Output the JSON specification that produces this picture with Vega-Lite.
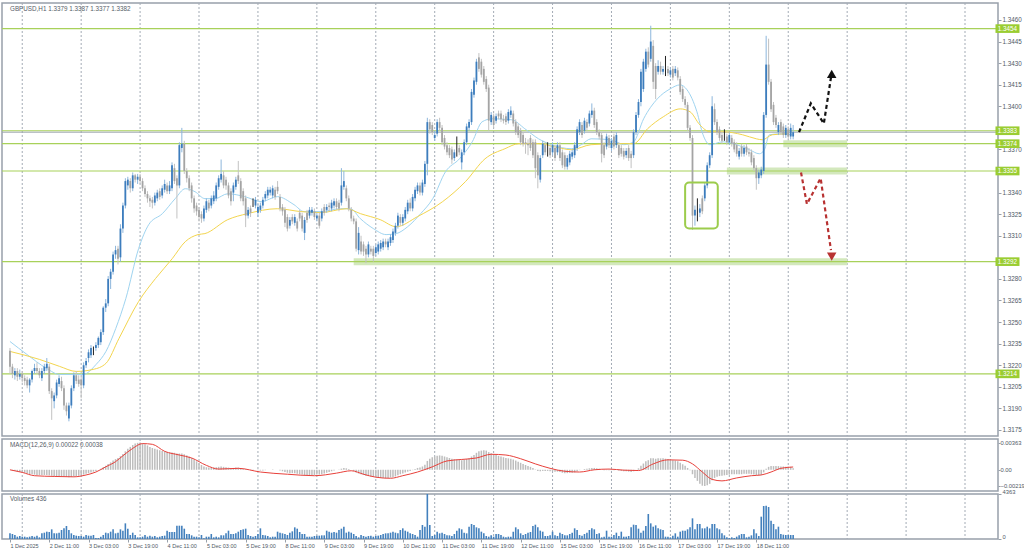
{
"$schema":"https://vega.github.io/schema/vega-lite/v6.json",
"background":"white",
"padding":{"left":0,"top":1,"right":0,"bottom":0},
"bounds":"flush",
"spacing":3,
"config":{
"view":{"stroke":"#98a0aa","strokeWidth":1.5},
"axis":{"labelFont":"Liberation Sans","labelFontSize":6.3,"labelColor":"#4f5966","tickColor":"#98a0aa","domainColor":"#98a0aa","tickSize":3,"labelPadding":1,"grid":false,"labelOverlap":false},
"text":{"font":"Liberation Sans"}
},
"datasets":{
"bars":[
{"i":0,"o":1.3230,"h":1.3232,"l":1.3214,"c":1.3219,"v":549,"m":0},
{"i":1,"o":1.3219,"h":1.3221,"l":1.3211,"c":1.3214,"v":485,"m":-0.0001},
{"i":2,"o":1.3213,"h":1.3218,"l":1.3210,"c":1.3216,"v":388,"m":-0.00015},
{"i":3,"o":1.3216,"h":1.3218,"l":1.3209,"c":1.3212,"v":226,"m":-0.0002},
{"i":4,"o":1.3212,"h":1.3217,"l":1.3210,"c":1.3214,"v":291,"m":-0.0003},
{"i":5,"o":1.3214,"h":1.3216,"l":1.3208,"c":1.3211,"v":226,"m":-0.00035},
{"i":6,"o":1.3211,"h":1.3213,"l":1.3206,"c":1.3209,"v":226,"m":-0.0004},
{"i":7,"o":1.3210,"h":1.3212,"l":1.3204,"c":1.3206,"v":162,"m":-0.0005},
{"i":8,"o":1.3206,"h":1.3211,"l":1.3201,"c":1.3210,"v":226,"m":-0.0006},
{"i":9,"o":1.3210,"h":1.3217,"l":1.3208,"c":1.3216,"v":291,"m":-0.0006},
{"i":10,"o":1.3216,"h":1.3221,"l":1.3214,"c":1.3218,"v":226,"m":-0.00065},
{"i":11,"o":1.3218,"h":1.3222,"l":1.3214,"c":1.3216,"v":323,"m":-0.0007},
{"i":12,"o":1.3216,"h":1.3218,"l":1.3211,"c":1.3213,"v":162,"m":-0.0007},
{"i":13,"o":1.3211,"h":1.3218,"l":1.3209,"c":1.3216,"v":549,"m":-0.0007},
{"i":14,"o":1.3216,"h":1.3221,"l":1.3214,"c":1.3219,"v":614,"m":-0.0007},
{"i":15,"o":1.3218,"h":1.3225,"l":1.3216,"c":1.3221,"v":711,"m":-0.0007},
{"i":16,"o":1.3219,"h":1.3221,"l":1.3200,"c":1.3202,"v":678,"m":-0.00075},
{"i":17,"o":1.3202,"h":1.3204,"l":1.3182,"c":1.3197,"v":937,"m":-0.0008},
{"i":18,"o":1.3195,"h":1.3201,"l":1.3190,"c":1.3199,"v":549,"m":-0.00085},
{"i":19,"o":1.3199,"h":1.3210,"l":1.3197,"c":1.3208,"v":549,"m":-0.00085},
{"i":20,"o":1.3207,"h":1.3213,"l":1.3205,"c":1.3211,"v":614,"m":-0.00085},
{"i":21,"o":1.3209,"h":1.3212,"l":1.3202,"c":1.3204,"v":872,"m":-0.00085},
{"i":22,"o":1.3204,"h":1.3206,"l":1.3189,"c":1.3192,"v":1034,"m":-0.0009},
{"i":23,"o":1.3192,"h":1.3194,"l":1.3185,"c":1.3188,"v":1260,"m":-0.00095},
{"i":24,"o":1.3183,"h":1.3194,"l":1.3181,"c":1.3192,"v":872,"m":-0.001},
{"i":25,"o":1.3192,"h":1.3206,"l":1.3190,"c":1.3204,"v":549,"m":-0.00095},
{"i":26,"o":1.3204,"h":1.3215,"l":1.3202,"c":1.3213,"v":388,"m":-0.0009},
{"i":27,"o":1.3213,"h":1.3216,"l":1.3207,"c":1.3209,"v":323,"m":-0.00085},
{"i":28,"o":1.3210,"h":1.3213,"l":1.3205,"c":1.3207,"v":291,"m":-0.0008},
{"i":29,"o":1.3210,"h":1.3212,"l":1.3197,"c":1.3206,"v":291,"m":-0.00075},
{"i":30,"o":1.3206,"h":1.3222,"l":1.3204,"c":1.3220,"v":226,"m":-0.00065},
{"i":31,"o":1.3220,"h":1.3225,"l":1.3218,"c":1.3223,"v":388,"m":-0.00055},
{"i":32,"o":1.3225,"h":1.3231,"l":1.3222,"c":1.3229,"v":323,"m":-0.00045},
{"i":33,"o":1.3227,"h":1.3234,"l":1.3225,"c":1.3232,"v":323,"m":-0.00035},
{"i":34,"o":1.3231,"h":1.3233,"l":1.3227,"c":1.3231,"v":388,"m":-0.00025},
{"i":35,"o":1.3232,"h":1.3236,"l":1.3230,"c":1.3234,"v":97,"m":-0.00015},
{"i":36,"o":1.3234,"h":1.3240,"l":1.3232,"c":1.3239,"v":97,"m":0},
{"i":37,"o":1.3236,"h":1.3245,"l":1.3234,"c":1.3243,"v":226,"m":0.00015},
{"i":38,"o":1.3243,"h":1.3261,"l":1.3241,"c":1.3260,"v":388,"m":0.00035},
{"i":39,"o":1.3260,"h":1.3266,"l":1.3257,"c":1.3263,"v":614,"m":0.00055},
{"i":40,"o":1.3263,"h":1.3282,"l":1.3261,"c":1.3280,"v":549,"m":0.0008},
{"i":41,"o":1.3280,"h":1.3287,"l":1.3273,"c":1.3285,"v":711,"m":0.001},
{"i":42,"o":1.3285,"h":1.3299,"l":1.3283,"c":1.3297,"v":937,"m":0.00125},
{"i":43,"o":1.3297,"h":1.3303,"l":1.3294,"c":1.3300,"v":549,"m":0.00145},
{"i":44,"o":1.3301,"h":1.3303,"l":1.3290,"c":1.3294,"v":614,"m":0.0016},
{"i":45,"o":1.3295,"h":1.3318,"l":1.3292,"c":1.3315,"v":937,"m":0.00185},
{"i":46,"o":1.3315,"h":1.3333,"l":1.3312,"c":1.3331,"v":808,"m":0.00215},
{"i":47,"o":1.3331,"h":1.3350,"l":1.3329,"c":1.3348,"v":1518,"m":0.0025},
{"i":48,"o":1.3345,"h":1.3351,"l":1.3342,"c":1.3349,"v":1001,"m":0.00285},
{"i":49,"o":1.3348,"h":1.3350,"l":1.3340,"c":1.3343,"v":388,"m":0.0031},
{"i":50,"o":1.3343,"h":1.3354,"l":1.3341,"c":1.3352,"v":614,"m":0.00335},
{"i":51,"o":1.3352,"h":1.3353,"l":1.3347,"c":1.3349,"v":388,"m":0.00355},
{"i":52,"o":1.3349,"h":1.3353,"l":1.3346,"c":1.3351,"v":162,"m":0.00365},
{"i":53,"o":1.3351,"h":1.3353,"l":1.3346,"c":1.3348,"v":162,"m":0.0037},
{"i":54,"o":1.3348,"h":1.3350,"l":1.3341,"c":1.3343,"v":226,"m":0.0036},
{"i":55,"o":1.3343,"h":1.3345,"l":1.3337,"c":1.3339,"v":388,"m":0.00345},
{"i":56,"o":1.3339,"h":1.3341,"l":1.3333,"c":1.3336,"v":226,"m":0.0033},
{"i":57,"o":1.3336,"h":1.3338,"l":1.3330,"c":1.3334,"v":323,"m":0.0031},
{"i":58,"o":1.3335,"h":1.3337,"l":1.3329,"c":1.3333,"v":226,"m":0.00295},
{"i":59,"o":1.3333,"h":1.3340,"l":1.3331,"c":1.3338,"v":291,"m":0.00285},
{"i":60,"o":1.3336,"h":1.3342,"l":1.3334,"c":1.3340,"v":162,"m":0.00275},
{"i":61,"o":1.3341,"h":1.3343,"l":1.3335,"c":1.3337,"v":226,"m":0.00265},
{"i":62,"o":1.3338,"h":1.3345,"l":1.3336,"c":1.3343,"v":291,"m":0.00255},
{"i":63,"o":1.3342,"h":1.3349,"l":1.3340,"c":1.3346,"v":323,"m":0.0025},
{"i":64,"o":1.3345,"h":1.3347,"l":1.3339,"c":1.3341,"v":808,"m":0.0024},
{"i":65,"o":1.3341,"h":1.3348,"l":1.3339,"c":1.3345,"v":678,"m":0.00235},
{"i":66,"o":1.3343,"h":1.3361,"l":1.3341,"c":1.3359,"v":678,"m":0.00235},
{"i":67,"o":1.3357,"h":1.3360,"l":1.3346,"c":1.3348,"v":678,"m":0.0023},
{"i":68,"o":1.3350,"h":1.3352,"l":1.3322,"c":1.3345,"v":1292,"m":0.0022},
{"i":69,"o":1.3345,"h":1.3375,"l":1.3343,"c":1.3373,"v":1292,"m":0.0022},
{"i":70,"o":1.3371,"h":1.3385,"l":1.3368,"c":1.3374,"v":1292,"m":0.0022},
{"i":71,"o":1.3374,"h":1.3376,"l":1.3353,"c":1.3355,"v":1001,"m":0.0021},
{"i":72,"o":1.3355,"h":1.3357,"l":1.3347,"c":1.3350,"v":485,"m":0.00195},
{"i":73,"o":1.3350,"h":1.3352,"l":1.3341,"c":1.3343,"v":485,"m":0.0018},
{"i":74,"o":1.3345,"h":1.3347,"l":1.3333,"c":1.3336,"v":355,"m":0.0016},
{"i":75,"o":1.3336,"h":1.3338,"l":1.3326,"c":1.3329,"v":226,"m":0.0014},
{"i":76,"o":1.3331,"h":1.3333,"l":1.3324,"c":1.3327,"v":226,"m":0.00115},
{"i":77,"o":1.3328,"h":1.3330,"l":1.3320,"c":1.3323,"v":162,"m":0.0009},
{"i":78,"o":1.3325,"h":1.3327,"l":1.3319,"c":1.3322,"v":388,"m":0.00065},
{"i":79,"o":1.3322,"h":1.3331,"l":1.3320,"c":1.3329,"v":65,"m":0.00045},
{"i":80,"o":1.3328,"h":1.3336,"l":1.3326,"c":1.3334,"v":226,"m":0.00035},
{"i":81,"o":1.3333,"h":1.3335,"l":1.3327,"c":1.3329,"v":226,"m":0.0003},
{"i":82,"o":1.3331,"h":1.3338,"l":1.3329,"c":1.3336,"v":485,"m":0.0003},
{"i":83,"o":1.3334,"h":1.3341,"l":1.3332,"c":1.3338,"v":162,"m":0.0003},
{"i":84,"o":1.3336,"h":1.3347,"l":1.3334,"c":1.3345,"v":226,"m":0.00035},
{"i":85,"o":1.3344,"h":1.3352,"l":1.3342,"c":1.3350,"v":162,"m":0.0004},
{"i":86,"o":1.3349,"h":1.3363,"l":1.3347,"c":1.3353,"v":355,"m":0.00045},
{"i":87,"o":1.3352,"h":1.3355,"l":1.3343,"c":1.3345,"v":355,"m":0.0004},
{"i":88,"o":1.3349,"h":1.3351,"l":1.3342,"c":1.3345,"v":549,"m":0.00035},
{"i":89,"o":1.3345,"h":1.3347,"l":1.3336,"c":1.3338,"v":808,"m":0.0003},
{"i":90,"o":1.3341,"h":1.3343,"l":1.3331,"c":1.3334,"v":485,"m":0.00025},
{"i":91,"o":1.3340,"h":1.3347,"l":1.3334,"c":1.3345,"v":485,"m":0.00025},
{"i":92,"o":1.3344,"h":1.3351,"l":1.3342,"c":1.3349,"v":549,"m":0.0003},
{"i":93,"o":1.3352,"h":1.3362,"l":1.3346,"c":1.3348,"v":711,"m":0.0003},
{"i":94,"o":1.3348,"h":1.3350,"l":1.3334,"c":1.3336,"v":872,"m":0.00025},
{"i":95,"o":1.3341,"h":1.3343,"l":1.3331,"c":1.3334,"v":937,"m":0.00015},
{"i":96,"o":1.3336,"h":1.3338,"l":1.3316,"c":1.3324,"v":1001,"m":0.00005},
{"i":97,"o":1.3324,"h":1.3330,"l":1.3322,"c":1.3328,"v":388,"m":0},
{"i":98,"o":1.3329,"h":1.3331,"l":1.3323,"c":1.3326,"v":291,"m":-0.00005},
{"i":99,"o":1.3333,"h":1.3336,"l":1.3330,"c":1.3333,"v":226,"m":-0.00005},
{"i":100,"o":1.3331,"h":1.3337,"l":1.3329,"c":1.3335,"v":291,"m":0},
{"i":101,"o":1.3326,"h":1.3332,"l":1.3323,"c":1.3330,"v":485,"m":-0.00005},
{"i":102,"o":1.3328,"h":1.3333,"l":1.3326,"c":1.3331,"v":1034,"m":-0.0001},
{"i":103,"o":1.3331,"h":1.3337,"l":1.3329,"c":1.3335,"v":388,"m":-0.0001},
{"i":104,"o":1.3336,"h":1.3341,"l":1.3334,"c":1.3339,"v":355,"m":-0.00005},
{"i":105,"o":1.3338,"h":1.3344,"l":1.3336,"c":1.3342,"v":291,"m":0},
{"i":106,"o":1.3340,"h":1.3344,"l":1.3338,"c":1.3342,"v":162,"m":0},
{"i":107,"o":1.3338,"h":1.3345,"l":1.3336,"c":1.3343,"v":226,"m":0.00005},
{"i":108,"o":1.3342,"h":1.3344,"l":1.3335,"c":1.3337,"v":226,"m":0},
{"i":109,"o":1.3344,"h":1.3348,"l":1.3339,"c":1.3341,"v":711,"m":0},
{"i":110,"o":1.3337,"h":1.3339,"l":1.3327,"c":1.3329,"v":614,"m":-0.0001},
{"i":111,"o":1.3330,"h":1.3332,"l":1.3324,"c":1.3327,"v":549,"m":-0.0002},
{"i":112,"o":1.3328,"h":1.3330,"l":1.3316,"c":1.3319,"v":485,"m":-0.0003},
{"i":113,"o":1.3323,"h":1.3325,"l":1.3313,"c":1.3315,"v":388,"m":-0.0004},
{"i":114,"o":1.3317,"h":1.3323,"l":1.3315,"c":1.3321,"v":614,"m":-0.00045},
{"i":115,"o":1.3323,"h":1.3325,"l":1.3318,"c":1.3320,"v":743,"m":-0.00045},
{"i":116,"o":1.3319,"h":1.3325,"l":1.3317,"c":1.3323,"v":1131,"m":-0.00045},
{"i":117,"o":1.3320,"h":1.3322,"l":1.3313,"c":1.3315,"v":1001,"m":-0.00055},
{"i":118,"o":1.3326,"h":1.3328,"l":1.3320,"c":1.3322,"v":678,"m":-0.0006},
{"i":119,"o":1.3324,"h":1.3326,"l":1.3313,"c":1.3315,"v":485,"m":-0.00065},
{"i":120,"o":1.3312,"h":1.3323,"l":1.3307,"c":1.3321,"v":485,"m":-0.0007},
{"i":121,"o":1.3326,"h":1.3328,"l":1.3319,"c":1.3321,"v":226,"m":-0.0007},
{"i":122,"o":1.3324,"h":1.3330,"l":1.3322,"c":1.3328,"v":226,"m":-0.0007},
{"i":123,"o":1.3326,"h":1.3330,"l":1.3324,"c":1.3328,"v":226,"m":-0.0007},
{"i":124,"o":1.3327,"h":1.3329,"l":1.3321,"c":1.3323,"v":291,"m":-0.0007},
{"i":125,"o":1.3322,"h":1.3326,"l":1.3320,"c":1.3324,"v":323,"m":-0.00065},
{"i":126,"o":1.3324,"h":1.3326,"l":1.3315,"c":1.3317,"v":323,"m":-0.00065},
{"i":127,"o":1.3322,"h":1.3329,"l":1.3320,"c":1.3327,"v":355,"m":-0.0006},
{"i":128,"o":1.3330,"h":1.3332,"l":1.3324,"c":1.3326,"v":355,"m":-0.0005},
{"i":129,"o":1.3328,"h":1.3332,"l":1.3326,"c":1.3330,"v":808,"m":-0.0004},
{"i":130,"o":1.3331,"h":1.3333,"l":1.3327,"c":1.3330,"v":711,"m":-0.0003},
{"i":131,"o":1.3329,"h":1.3335,"l":1.3327,"c":1.3333,"v":614,"m":-0.0002},
{"i":132,"o":1.3331,"h":1.3336,"l":1.3329,"c":1.3334,"v":678,"m":-0.0001},
{"i":133,"o":1.3334,"h":1.3336,"l":1.3328,"c":1.3330,"v":614,"m":0},
{"i":134,"o":1.3333,"h":1.3335,"l":1.3327,"c":1.3329,"v":872,"m":0.00005},
{"i":135,"o":1.3333,"h":1.3357,"l":1.3331,"c":1.3345,"v":1001,"m":0.00015},
{"i":136,"o":1.3344,"h":1.3355,"l":1.3342,"c":1.3348,"v":1195,"m":0.00025},
{"i":137,"o":1.3343,"h":1.3345,"l":1.3334,"c":1.3336,"v":614,"m":0.0002},
{"i":138,"o":1.3336,"h":1.3338,"l":1.3327,"c":1.3329,"v":711,"m":0.0001},
{"i":139,"o":1.3328,"h":1.3330,"l":1.3320,"c":1.3322,"v":614,"m":0},
{"i":140,"o":1.3322,"h":1.3324,"l":1.3318,"c":1.3320,"v":485,"m":-0.00015},
{"i":141,"o":1.3320,"h":1.3322,"l":1.3299,"c":1.3301,"v":291,"m":-0.00035},
{"i":142,"o":1.3300,"h":1.3316,"l":1.3297,"c":1.3312,"v":162,"m":-0.0005},
{"i":143,"o":1.3306,"h":1.3310,"l":1.3297,"c":1.3299,"v":388,"m":-0.0006},
{"i":144,"o":1.3304,"h":1.3306,"l":1.3296,"c":1.3299,"v":291,"m":-0.0007},
{"i":145,"o":1.3301,"h":1.3303,"l":1.3291,"c":1.3297,"v":226,"m":-0.0008},
{"i":146,"o":1.3297,"h":1.3306,"l":1.3295,"c":1.3304,"v":291,"m":-0.00085},
{"i":147,"o":1.3301,"h":1.3303,"l":1.3297,"c":1.3299,"v":323,"m":-0.0009},
{"i":148,"o":1.3301,"h":1.3303,"l":1.3292,"c":1.3296,"v":226,"m":-0.00095},
{"i":149,"o":1.3298,"h":1.3304,"l":1.3296,"c":1.3302,"v":291,"m":-0.001},
{"i":150,"o":1.3299,"h":1.3306,"l":1.3297,"c":1.3304,"v":323,"m":-0.00105},
{"i":151,"o":1.3301,"h":1.3307,"l":1.3299,"c":1.3305,"v":388,"m":-0.0011},
{"i":152,"o":1.3302,"h":1.3308,"l":1.3300,"c":1.3306,"v":485,"m":-0.0011},
{"i":153,"o":1.3306,"h":1.3308,"l":1.3302,"c":1.3304,"v":549,"m":-0.00115},
{"i":154,"o":1.3302,"h":1.3308,"l":1.3300,"c":1.3306,"v":549,"m":-0.0011},
{"i":155,"o":1.3305,"h":1.3311,"l":1.3303,"c":1.3309,"v":614,"m":-0.00105},
{"i":156,"o":1.3307,"h":1.3315,"l":1.3305,"c":1.3313,"v":711,"m":-0.001},
{"i":157,"o":1.3312,"h":1.3319,"l":1.3310,"c":1.3317,"v":614,"m":-0.0009},
{"i":158,"o":1.3317,"h":1.3326,"l":1.3315,"c":1.3324,"v":549,"m":-0.00075},
{"i":159,"o":1.3323,"h":1.3325,"l":1.3317,"c":1.3319,"v":872,"m":-0.0006},
{"i":160,"o":1.3319,"h":1.3325,"l":1.3317,"c":1.3323,"v":1034,"m":-0.0005},
{"i":161,"o":1.3322,"h":1.3330,"l":1.3320,"c":1.3328,"v":808,"m":-0.00035},
{"i":162,"o":1.3327,"h":1.3335,"l":1.3325,"c":1.3333,"v":711,"m":-0.00025},
{"i":163,"o":1.3333,"h":1.3336,"l":1.3327,"c":1.3329,"v":549,"m":-0.00015},
{"i":164,"o":1.3329,"h":1.3339,"l":1.3327,"c":1.3337,"v":485,"m":-0.00005},
{"i":165,"o":1.3336,"h":1.3344,"l":1.3334,"c":1.3342,"v":388,"m":0.0001},
{"i":166,"o":1.3341,"h":1.3347,"l":1.3339,"c":1.3345,"v":226,"m":0.00025},
{"i":167,"o":1.3345,"h":1.3347,"l":1.3338,"c":1.3340,"v":872,"m":0.0003},
{"i":168,"o":1.3340,"h":1.3349,"l":1.3338,"c":1.3347,"v":1357,"m":0.00045},
{"i":169,"o":1.3346,"h":1.3362,"l":1.3344,"c":1.3360,"v":1195,"m":0.0007},
{"i":170,"o":1.3360,"h":1.3392,"l":1.3352,"c":1.3389,"v":4363,"m":0.0012},
{"i":171,"o":1.3389,"h":1.3391,"l":1.3381,"c":1.3384,"v":1357,"m":0.0015},
{"i":172,"o":1.3387,"h":1.3389,"l":1.3380,"c":1.3382,"v":291,"m":0.0017},
{"i":173,"o":1.3378,"h":1.3383,"l":1.3376,"c":1.3380,"v":388,"m":0.0018},
{"i":174,"o":1.3381,"h":1.3391,"l":1.3379,"c":1.3389,"v":711,"m":0.0019},
{"i":175,"o":1.3389,"h":1.3392,"l":1.3383,"c":1.3385,"v":549,"m":0.00195},
{"i":176,"o":1.3385,"h":1.3387,"l":1.3373,"c":1.3375,"v":614,"m":0.0019},
{"i":177,"o":1.3378,"h":1.3380,"l":1.3370,"c":1.3372,"v":485,"m":0.0018},
{"i":178,"o":1.3373,"h":1.3375,"l":1.3366,"c":1.3368,"v":355,"m":0.0017},
{"i":179,"o":1.3371,"h":1.3373,"l":1.3364,"c":1.3366,"v":355,"m":0.0016},
{"i":180,"o":1.3370,"h":1.3372,"l":1.3360,"c":1.3363,"v":291,"m":0.0015},
{"i":181,"o":1.3364,"h":1.3370,"l":1.3362,"c":1.3368,"v":485,"m":0.00145},
{"i":182,"o":1.3371,"h":1.3379,"l":1.3365,"c":1.3371,"v":808,"m":0.0014},
{"i":183,"o":1.3371,"h":1.3373,"l":1.3366,"c":1.3368,"v":1034,"m":0.00135},
{"i":184,"o":1.3361,"h":1.3370,"l":1.3356,"c":1.3368,"v":937,"m":0.0013},
{"i":185,"o":1.3368,"h":1.3377,"l":1.3366,"c":1.3375,"v":614,"m":0.00135},
{"i":186,"o":1.3375,"h":1.3388,"l":1.3373,"c":1.3386,"v":549,"m":0.00145},
{"i":187,"o":1.3385,"h":1.3391,"l":1.3383,"c":1.3389,"v":1195,"m":0.00155},
{"i":188,"o":1.3389,"h":1.3412,"l":1.3387,"c":1.3410,"v":1454,"m":0.0018},
{"i":189,"o":1.3408,"h":1.3420,"l":1.3406,"c":1.3418,"v":1357,"m":0.002},
{"i":190,"o":1.3417,"h":1.3433,"l":1.3415,"c":1.3431,"v":1131,"m":0.0023},
{"i":191,"o":1.3434,"h":1.3437,"l":1.3424,"c":1.3426,"v":1034,"m":0.0025},
{"i":192,"o":1.3431,"h":1.3433,"l":1.3420,"c":1.3422,"v":711,"m":0.0026},
{"i":193,"o":1.3426,"h":1.3428,"l":1.3415,"c":1.3417,"v":549,"m":0.00265},
{"i":194,"o":1.3419,"h":1.3421,"l":1.3410,"c":1.3412,"v":291,"m":0.0026},
{"i":195,"o":1.3413,"h":1.3415,"l":1.3383,"c":1.3390,"v":226,"m":0.0024},
{"i":196,"o":1.3389,"h":1.3396,"l":1.3387,"c":1.3394,"v":355,"m":0.00225},
{"i":197,"o":1.3393,"h":1.3395,"l":1.3385,"c":1.3387,"v":226,"m":0.0021},
{"i":198,"o":1.3390,"h":1.3395,"l":1.3388,"c":1.3393,"v":485,"m":0.002},
{"i":199,"o":1.3395,"h":1.3397,"l":1.3391,"c":1.3393,"v":485,"m":0.0019},
{"i":200,"o":1.3395,"h":1.3397,"l":1.3389,"c":1.3391,"v":388,"m":0.0018},
{"i":201,"o":1.3391,"h":1.3394,"l":1.3388,"c":1.3390,"v":226,"m":0.0017},
{"i":202,"o":1.3393,"h":1.3395,"l":1.3387,"c":1.3389,"v":162,"m":0.0016},
{"i":203,"o":1.3390,"h":1.3398,"l":1.3388,"c":1.3396,"v":226,"m":0.00155},
{"i":204,"o":1.3394,"h":1.3400,"l":1.3392,"c":1.3397,"v":226,"m":0.0015},
{"i":205,"o":1.3395,"h":1.3397,"l":1.3386,"c":1.3388,"v":711,"m":0.0014},
{"i":206,"o":1.3389,"h":1.3391,"l":1.3380,"c":1.3382,"v":1131,"m":0.00125},
{"i":207,"o":1.3386,"h":1.3388,"l":1.3378,"c":1.3380,"v":937,"m":0.0011},
{"i":208,"o":1.3383,"h":1.3385,"l":1.3373,"c":1.3375,"v":549,"m":0.00095},
{"i":209,"o":1.3380,"h":1.3382,"l":1.3372,"c":1.3374,"v":388,"m":0.0008},
{"i":210,"o":1.3375,"h":1.3378,"l":1.3367,"c":1.3374,"v":485,"m":0.00065},
{"i":211,"o":1.3374,"h":1.3377,"l":1.3366,"c":1.3373,"v":614,"m":0.0005},
{"i":212,"o":1.3378,"h":1.3380,"l":1.3369,"c":1.3371,"v":678,"m":0.0004},
{"i":213,"o":1.3375,"h":1.3377,"l":1.3364,"c":1.3366,"v":1260,"m":0.00025},
{"i":214,"o":1.3375,"h":1.3377,"l":1.3350,"c":1.3357,"v":1389,"m":0.00005},
{"i":215,"o":1.3366,"h":1.3368,"l":1.3343,"c":1.3352,"v":1131,"m":-0.00015},
{"i":216,"o":1.3349,"h":1.3366,"l":1.3347,"c":1.3364,"v":808,"m":-0.0002},
{"i":217,"o":1.3366,"h":1.3376,"l":1.3364,"c":1.3374,"v":711,"m":-0.00015},
{"i":218,"o":1.3373,"h":1.3375,"l":1.3366,"c":1.3368,"v":291,"m":-0.00015},
{"i":219,"o":1.3370,"h":1.3375,"l":1.3365,"c":1.3370,"v":291,"m":-0.00015},
{"i":220,"o":1.3371,"h":1.3373,"l":1.3364,"c":1.3366,"v":355,"m":-0.0002},
{"i":221,"o":1.3368,"h":1.3375,"l":1.3366,"c":1.3373,"v":711,"m":-0.0002},
{"i":222,"o":1.3371,"h":1.3373,"l":1.3362,"c":1.3364,"v":355,"m":-0.00025},
{"i":223,"o":1.3368,"h":1.3375,"l":1.3366,"c":1.3373,"v":291,"m":-0.00025},
{"i":224,"o":1.3373,"h":1.3375,"l":1.3362,"c":1.3364,"v":614,"m":-0.0003},
{"i":225,"o":1.3368,"h":1.3370,"l":1.3357,"c":1.3359,"v":485,"m":-0.0004},
{"i":226,"o":1.3366,"h":1.3368,"l":1.3356,"c":1.3358,"v":355,"m":-0.00045},
{"i":227,"o":1.3358,"h":1.3366,"l":1.3356,"c":1.3364,"v":355,"m":-0.00045},
{"i":228,"o":1.3361,"h":1.3369,"l":1.3359,"c":1.3367,"v":485,"m":-0.0004},
{"i":229,"o":1.3365,"h":1.3370,"l":1.3363,"c":1.3368,"v":614,"m":-0.0004},
{"i":230,"o":1.3366,"h":1.3375,"l":1.3364,"c":1.3373,"v":1034,"m":-0.00035},
{"i":231,"o":1.3371,"h":1.3386,"l":1.3369,"c":1.3384,"v":872,"m":-0.0002},
{"i":232,"o":1.3382,"h":1.3391,"l":1.3380,"c":1.3389,"v":388,"m":-0.00005},
{"i":233,"o":1.3387,"h":1.3389,"l":1.3378,"c":1.3380,"v":323,"m":0},
{"i":234,"o":1.3383,"h":1.3392,"l":1.3381,"c":1.3390,"v":485,"m":0.0001},
{"i":235,"o":1.3389,"h":1.3391,"l":1.3383,"c":1.3385,"v":614,"m":0.00015},
{"i":236,"o":1.3388,"h":1.3397,"l":1.3386,"c":1.3395,"v":872,"m":0.0002},
{"i":237,"o":1.3394,"h":1.3402,"l":1.3392,"c":1.3397,"v":1034,"m":0.00025},
{"i":238,"o":1.3397,"h":1.3399,"l":1.3385,"c":1.3387,"v":937,"m":0.00025},
{"i":239,"o":1.3389,"h":1.3391,"l":1.3380,"c":1.3382,"v":485,"m":0.0002},
{"i":240,"o":1.3382,"h":1.3384,"l":1.3377,"c":1.3379,"v":549,"m":0.00015},
{"i":241,"o":1.3380,"h":1.3382,"l":1.3361,"c":1.3367,"v":162,"m":0.00005},
{"i":242,"o":1.3373,"h":1.3375,"l":1.3364,"c":1.3366,"v":226,"m":-0.00005},
{"i":243,"o":1.3372,"h":1.3381,"l":1.3370,"c":1.3379,"v":808,"m":-0.00005},
{"i":244,"o":1.3378,"h":1.3380,"l":1.3371,"c":1.3373,"v":226,"m":-0.00005},
{"i":245,"o":1.3371,"h":1.3378,"l":1.3369,"c":1.3376,"v":226,"m":-0.00005},
{"i":246,"o":1.3379,"h":1.3381,"l":1.3370,"c":1.3372,"v":388,"m":-0.00005},
{"i":247,"o":1.3373,"h":1.3382,"l":1.3371,"c":1.3380,"v":614,"m":0},
{"i":248,"o":1.3373,"h":1.3375,"l":1.3364,"c":1.3366,"v":291,"m":-0.0001},
{"i":249,"o":1.3371,"h":1.3373,"l":1.3365,"c":1.3367,"v":711,"m":-0.00015},
{"i":250,"o":1.3369,"h":1.3371,"l":1.3363,"c":1.3365,"v":226,"m":-0.0002},
{"i":251,"o":1.3366,"h":1.3371,"l":1.3364,"c":1.3369,"v":226,"m":-0.0002},
{"i":252,"o":1.3371,"h":1.3373,"l":1.3362,"c":1.3364,"v":291,"m":-0.00025},
{"i":253,"o":1.3367,"h":1.3369,"l":1.3357,"c":1.3364,"v":1131,"m":-0.0003},
{"i":254,"o":1.3366,"h":1.3384,"l":1.3364,"c":1.3382,"v":1389,"m":-0.0002},
{"i":255,"o":1.3382,"h":1.3396,"l":1.3380,"c":1.3394,"v":1357,"m":0},
{"i":256,"o":1.3394,"h":1.3405,"l":1.3392,"c":1.3403,"v":1001,"m":0.0002},
{"i":257,"o":1.3403,"h":1.3426,"l":1.3400,"c":1.3424,"v":614,"m":0.00055},
{"i":258,"o":1.3412,"h":1.3433,"l":1.3410,"c":1.3431,"v":808,"m":0.00085},
{"i":259,"o":1.3426,"h":1.3440,"l":1.3424,"c":1.3438,"v":1260,"m":0.00115},
{"i":260,"o":1.3438,"h":1.3441,"l":1.3427,"c":1.3429,"v":2423,"m":0.0013},
{"i":261,"o":1.3433,"h":1.3456,"l":1.3431,"c":1.3445,"v":1518,"m":0.00155},
{"i":262,"o":1.3442,"h":1.3446,"l":1.3412,"c":1.3417,"v":1195,"m":0.00155},
{"i":263,"o":1.3428,"h":1.3430,"l":1.3405,"c":1.3412,"v":1324,"m":0.0015},
{"i":264,"o":1.3424,"h":1.3432,"l":1.3422,"c":1.3428,"v":1034,"m":0.00155},
{"i":265,"o":1.3428,"h":1.3431,"l":1.3422,"c":1.3424,"v":937,"m":0.00155},
{"i":266,"o":1.3424,"h":1.3428,"l":1.3422,"c":1.3426,"v":872,"m":0.00155},
{"i":267,"o":1.3426,"h":1.3435,"l":1.3421,"c":1.3426,"v":226,"m":0.0015},
{"i":268,"o":1.3426,"h":1.3428,"l":1.3421,"c":1.3423,"v":226,"m":0.00145},
{"i":269,"o":1.3422,"h":1.3427,"l":1.3420,"c":1.3425,"v":162,"m":0.0014},
{"i":270,"o":1.3426,"h":1.3428,"l":1.3418,"c":1.3420,"v":323,"m":0.0013},
{"i":271,"o":1.3423,"h":1.3428,"l":1.3421,"c":1.3426,"v":549,"m":0.00125},
{"i":272,"o":1.3425,"h":1.3427,"l":1.3418,"c":1.3420,"v":226,"m":0.00115},
{"i":273,"o":1.3419,"h":1.3421,"l":1.3408,"c":1.3410,"v":711,"m":0.00095},
{"i":274,"o":1.3412,"h":1.3414,"l":1.3403,"c":1.3405,"v":808,"m":0.00075},
{"i":275,"o":1.3405,"h":1.3407,"l":1.3399,"c":1.3401,"v":808,"m":0.00055},
{"i":276,"o":1.3401,"h":1.3403,"l":1.3383,"c":1.3385,"v":937,"m":0.00025},
{"i":277,"o":1.3385,"h":1.3387,"l":1.3376,"c":1.3378,"v":1131,"m":-0.00005},
{"i":278,"o":1.3378,"h":1.3380,"l":1.3314,"c":1.3324,"v":2003,"m":-0.0006},
{"i":279,"o":1.3324,"h":1.3331,"l":1.3317,"c":1.3328,"v":937,"m":-0.0011},
{"i":280,"o":1.3328,"h":1.3336,"l":1.3320,"c":1.3328,"v":1454,"m":-0.0015},
{"i":281,"o":1.3326,"h":1.3332,"l":1.3323,"c":1.3329,"v":1454,"m":-0.0019},
{"i":282,"o":1.3336,"h":1.3338,"l":1.3325,"c":1.3327,"v":1034,"m":-0.00215},
{"i":283,"o":1.3336,"h":1.3347,"l":1.3334,"c":1.3345,"v":1034,"m":-0.00219},
{"i":284,"o":1.3345,"h":1.3361,"l":1.3343,"c":1.3359,"v":1195,"m":-0.0021},
{"i":285,"o":1.3359,"h":1.3368,"l":1.3357,"c":1.3366,"v":1034,"m":-0.0019},
{"i":286,"o":1.3366,"h":1.3407,"l":1.3364,"c":1.3400,"v":1454,"m":-0.0014},
{"i":287,"o":1.3398,"h":1.3402,"l":1.3387,"c":1.3389,"v":1454,"m":-0.0011},
{"i":288,"o":1.3389,"h":1.3391,"l":1.3380,"c":1.3382,"v":1034,"m":-0.00095},
{"i":289,"o":1.3384,"h":1.3386,"l":1.3376,"c":1.3378,"v":937,"m":-0.00085},
{"i":290,"o":1.3380,"h":1.3382,"l":1.3374,"c":1.3376,"v":549,"m":-0.0008},
{"i":291,"o":1.3378,"h":1.3384,"l":1.3376,"c":1.3378,"v":355,"m":-0.00075},
{"i":292,"o":1.3379,"h":1.3381,"l":1.3373,"c":1.3375,"v":162,"m":-0.0007},
{"i":293,"o":1.3375,"h":1.3382,"l":1.3373,"c":1.3380,"v":97,"m":-0.00065},
{"i":294,"o":1.3378,"h":1.3380,"l":1.3372,"c":1.3374,"v":162,"m":-0.0006},
{"i":295,"o":1.3375,"h":1.3377,"l":1.3368,"c":1.3370,"v":97,"m":-0.0006},
{"i":296,"o":1.3373,"h":1.3375,"l":1.3365,"c":1.3367,"v":226,"m":-0.0006},
{"i":297,"o":1.3365,"h":1.3371,"l":1.3363,"c":1.3369,"v":355,"m":-0.0006},
{"i":298,"o":1.3372,"h":1.3374,"l":1.3365,"c":1.3367,"v":485,"m":-0.0006},
{"i":299,"o":1.3367,"h":1.3373,"l":1.3365,"c":1.3371,"v":485,"m":-0.00055},
{"i":300,"o":1.3372,"h":1.3374,"l":1.3366,"c":1.3368,"v":162,"m":-0.00055},
{"i":301,"o":1.3368,"h":1.3371,"l":1.3365,"c":1.3367,"v":226,"m":-0.00055},
{"i":302,"o":1.3368,"h":1.3370,"l":1.3359,"c":1.3361,"v":355,"m":-0.0006},
{"i":303,"o":1.3364,"h":1.3366,"l":1.3355,"c":1.3357,"v":937,"m":-0.00065},
{"i":304,"o":1.3357,"h":1.3359,"l":1.3342,"c":1.3350,"v":549,"m":-0.00075},
{"i":305,"o":1.3350,"h":1.3356,"l":1.3346,"c":1.3354,"v":291,"m":-0.00075},
{"i":306,"o":1.3352,"h":1.3358,"l":1.3350,"c":1.3356,"v":2164,"m":-0.0007},
{"i":307,"o":1.3355,"h":1.3396,"l":1.3353,"c":1.3394,"v":3198,"m":-0.00035},
{"i":308,"o":1.3394,"h":1.3449,"l":1.3392,"c":1.3429,"v":3230,"m":0.00015},
{"i":309,"o":1.3429,"h":1.3447,"l":1.3415,"c":1.3417,"v":3100,"m":0.0004},
{"i":310,"o":1.3417,"h":1.3419,"l":1.3396,"c":1.3398,"v":1777,"m":0.0005},
{"i":311,"o":1.3401,"h":1.3403,"l":1.3387,"c":1.3389,"v":1454,"m":0.0005},
{"i":312,"o":1.3392,"h":1.3394,"l":1.3385,"c":1.3387,"v":937,"m":0.0005},
{"i":313,"o":1.3382,"h":1.3389,"l":1.3380,"c":1.3387,"v":1195,"m":0.0005},
{"i":314,"o":1.3389,"h":1.3391,"l":1.3380,"c":1.3382,"v":485,"m":0.00045},
{"i":315,"o":1.3386,"h":1.3388,"l":1.3378,"c":1.3380,"v":420,"m":0.00045},
{"i":316,"o":1.3380,"h":1.3387,"l":1.3378,"c":1.3385,"v":388,"m":0.0004},
{"i":317,"o":1.3384,"h":1.3386,"l":1.3377,"c":1.3379,"v":388,"m":0.0004},
{"i":318,"o":1.3379,"h":1.3388,"l":1.3377,"c":1.3385,"v":388,"m":0.0004},
{"i":319,"o":1.3379,"h":1.3387,"l":1.3377,"c":1.3382,"v":388,"m":0.00022}
],
"ma":[
{"s":"f","i":0,"v":1.32365},{"s":"f","i":6.9,"v":1.32275},{"s":"f","i":14.9,"v":1.32178},{"s":"f","i":20.2,"v":1.32136},{"s":"f","i":29.8,"v":1.32136},{"s":"f","i":35.1,"v":1.32206},{"s":"f","i":39.1,"v":1.32296},{"s":"f","i":43.1,"v":1.32456},{"s":"f","i":47.2,"v":1.32664},{"s":"f","i":52.4,"v":1.33011},{"s":"f","i":56.5,"v":1.33177},{"s":"f","i":62.1,"v":1.33254},{"s":"f","i":67.3,"v":1.33358},{"s":"f","i":71.4,"v":1.33427},{"s":"f","i":75.4,"v":1.33406},{"s":"f","i":79.4,"v":1.33358},{"s":"f","i":83.5,"v":1.33358},{"s":"f","i":88.7,"v":1.33392},{"s":"f","i":95.6,"v":1.33372},{"s":"f","i":102.4,"v":1.33337},{"s":"f","i":108.9,"v":1.33372},{"s":"f","i":115.7,"v":1.33316},{"s":"f","i":119.8,"v":1.33268},{"s":"f","i":126.6,"v":1.33268},{"s":"f","i":134.7,"v":1.33288},{"s":"f","i":138.7,"v":1.33288},{"s":"f","i":142.7,"v":1.33219},{"s":"f","i":148,"v":1.3315},{"s":"f","i":153.2,"v":1.33108},{"s":"f","i":157.3,"v":1.33115},{"s":"f","i":162,"v":1.33163},{"s":"f","i":167.3,"v":1.33254},{"s":"f","i":172.2,"v":1.33358},{"s":"f","i":177.4,"v":1.33545},{"s":"f","i":183.1,"v":1.33635},{"s":"f","i":188.3,"v":1.33753},{"s":"f","i":192.3,"v":1.33892},{"s":"f","i":196.4,"v":1.33913},{"s":"f","i":204.4,"v":1.33906},{"s":"f","i":209.7,"v":1.33844},{"s":"f","i":215.3,"v":1.33774},{"s":"f","i":220.6,"v":1.33733},{"s":"f","i":228.6,"v":1.33705},{"s":"f","i":232.7,"v":1.33733},{"s":"f","i":236.7,"v":1.33774},{"s":"f","i":244.8,"v":1.33767},{"s":"f","i":250,"v":1.33733},{"s":"f","i":254,"v":1.33753},{"s":"f","i":258.1,"v":1.33913},{"s":"f","i":263.7,"v":1.34052},{"s":"f","i":268.9,"v":1.34121},{"s":"f","i":273,"v":1.34149},{"s":"f","i":275.8,"v":1.34114},{"s":"f","i":279.8,"v":1.33962},{"s":"f","i":282.3,"v":1.33802},{"s":"f","i":285.1,"v":1.33733},{"s":"f","i":290.3,"v":1.33753},{"s":"f","i":296,"v":1.33733},{"s":"f","i":301.2,"v":1.33698},{"s":"f","i":305.2,"v":1.3367},{"s":"f","i":307.3,"v":1.33698},{"s":"f","i":309.3,"v":1.33802},{"s":"f","i":314.5,"v":1.33809},{"s":"f","i":318.5,"v":1.33802},
{"s":"s","i":0,"v":1.32296},{"s":"s","i":12.1,"v":1.3224},{"s":"s","i":20.2,"v":1.32192},{"s":"s","i":27,"v":1.32157},{"s":"s","i":33.9,"v":1.32171},{"s":"s","i":39.1,"v":1.32213},{"s":"s","i":44.4,"v":1.32386},{"s":"s","i":52.4,"v":1.32643},{"s":"s","i":59.3,"v":1.32803},{"s":"s","i":66.1,"v":1.32941},{"s":"s","i":71.4,"v":1.33059},{"s":"s","i":76.6,"v":1.33108},{"s":"s","i":79.4,"v":1.33115},{"s":"s","i":88.7,"v":1.33212},{"s":"s","i":96.8,"v":1.33254},{"s":"s","i":108.9,"v":1.33288},{"s":"s","i":118.5,"v":1.33268},{"s":"s","i":126.6,"v":1.33261},{"s":"s","i":137.1,"v":1.33288},{"s":"s","i":142.7,"v":1.33254},{"s":"s","i":150.8,"v":1.33212},{"s":"s","i":157.3,"v":1.33163},{"s":"s","i":166,"v":1.33233},{"s":"s","i":176.2,"v":1.33337},{"s":"s","i":185.5,"v":1.33476},{"s":"s","i":193.5,"v":1.33635},{"s":"s","i":201.6,"v":1.33705},{"s":"s","i":207.3,"v":1.3374},{"s":"s","i":215.3,"v":1.3374},{"s":"s","i":223.4,"v":1.33712},{"s":"s","i":228.6,"v":1.33698},{"s":"s","i":236.7,"v":1.33733},{"s":"s","i":247.6,"v":1.3374},{"s":"s","i":254,"v":1.3374},{"s":"s","i":259.7,"v":1.33844},{"s":"s","i":266.1,"v":1.33927},{"s":"s","i":273,"v":1.33982},{"s":"s","i":277,"v":1.33962},{"s":"s","i":281,"v":1.33871},{"s":"s","i":285.1,"v":1.33823},{"s":"s","i":290.3,"v":1.33823},{"s":"s","i":298.4,"v":1.33802},{"s":"s","i":304,"v":1.33774},{"s":"s","i":306.5,"v":1.33767},{"s":"s","i":310.5,"v":1.33802},{"s":"s","i":317.3,"v":1.33809}
],
"sig":[
{"i":0,"s":0},{"i":5,"s":-0.00035},{"i":10,"s":-0.0008},{"i":18,"s":-0.0009},{"i":26,"s":-0.00095},{"i":31,"s":-0.0007},{"i":35,"s":-0.0003},{"i":39,"s":0.0004},{"i":43,"s":0.0011},{"i":46,"s":0.0019},{"i":50,"s":0.0029},{"i":54,"s":0.00355},{"i":58,"s":0.00345},{"i":63,"s":0.0025},{"i":69,"s":0.002},{"i":74,"s":0.0016},{"i":80,"s":0.0006},{"i":85,"s":0.0001},{"i":93,"s":0.0002},{"i":102,"s":-0.0003},{"i":113,"s":-0.0006},{"i":124,"s":-0.0008},{"i":133,"s":-0.00045},{"i":139,"s":-0.00013},{"i":144,"s":-0.0006},{"i":149,"s":-0.001},{"i":155,"s":-0.00115},{"i":160,"s":-0.0008},{"i":166,"s":-0.0003},{"i":172,"s":0.0004},{"i":178,"s":0.0012},{"i":184,"s":0.0014},{"i":190,"s":0.0016},{"i":196,"s":0.0021},{"i":202,"s":0.002},{"i":208,"s":0.0015},{"i":214,"s":0.0008},{"i":220,"s":0.0002},{"i":226,"s":-0.0002},{"i":232,"s":-0.0003},{"i":238,"s":0},{"i":244,"s":0.0001},{"i":250,"s":-0.00005},{"i":256,"s":-0.0001},{"i":262,"s":0.0008},{"i":268,"s":0.00135},{"i":274,"s":0.0013},{"i":278,"s":0.0008},{"i":282,"s":-0.0003},{"i":286,"s":-0.0013},{"i":290,"s":-0.0015},{"i":296,"s":-0.0011},{"i":302,"s":-0.0008},{"i":306,"s":-0.0007},{"i":310,"s":-0.0003},{"i":314,"s":0.0002},{"i":319,"s":0.00038}
],
"days":[{"d":5},{"d":29},{"d":53},{"d":77},{"d":101},{"d":125},{"d":149},{"d":173},{"d":197},{"d":221},{"d":245},{"d":269},{"d":293},{"d":317},{"d":341},{"d":365},{"d":389}],
"lv":[{"p":1.3454},{"p":1.3383},{"p":1.3374},{"p":1.3355},{"p":1.3292},{"p":1.3214}],
"bid":[{"p":1.3382}],
"zones":[{"p":1.3374,"a":315,"b":341},{"p":1.3355,"a":292,"b":341},{"p":1.3292,"a":140,"b":341}],
"box":[{"a":275,"b":288.3,"lo":1.3315,"hi":1.3347}],
"arr":[{"g":"up","k":0,"i":321.4,"p":1.3382},{"g":"up","k":1,"i":326.2,"p":1.3402},{"g":"up","k":2,"i":331.5,"p":1.3388},{"g":"up","k":3,"i":334.4,"p":1.3420},{"g":"dn","k":0,"i":322.2,"p":1.3354},{"g":"dn","k":1,"i":324.6,"p":1.3332},{"g":"dn","k":2,"i":330.2,"p":1.3350},{"g":"dn","k":3,"i":334.4,"p":1.3300}],
"heads":[{"g":"up","i":334.7,"p":1.34225},{"g":"dn","i":334.7,"p":1.32955}]
},
"vconcat":[
{
"width":996,"height":433,
"layer":[
{"data":{"name":"days"},"mark":{"type":"rule","stroke":"#a3abb5","strokeDash":[2,2],"strokeWidth":1},
 "encoding":{"x":{"field":"d","type":"quantitative","scale":{"domain":[-1.21,400.4],"nice":false,"zero":false},"axis":null}}},
{"data":{"name":"zones"},"mark":{"type":"rule","stroke":"#d3e8bd","strokeWidth":7,"strokeCap":"butt"},
 "encoding":{"x":{"field":"a","type":"quantitative","scale":{"domain":[-1.21,400.4],"nice":false,"zero":false},"axis":null},"x2":{"field":"b"},
 "y":{"field":"p","type":"quantitative","scale":{"domain":[1.31708,1.34718],"nice":false,"zero":false},
  "axis":{"orient":"right","title":null,"values":[1.3175,1.319,1.3205,1.322,1.3235,1.325,1.3265,1.328,1.331,1.3325,1.334,1.337,1.34,1.3415,1.343,1.3445,1.346],"tickCount":60,"format":".4f","labelFontSize":6.3,"domain":false,"labelOverlap":false}}}},
{"data":{"name":"lv"},"mark":{"type":"rule","stroke":"#a8d15a","strokeWidth":1.2},
 "encoding":{"y":{"field":"p","type":"quantitative","scale":{"domain":[1.31708,1.34718],"nice":false,"zero":false},"axis":{"title":null,"tickCount":60}}}},
{"data":{"name":"bid"},"mark":{"type":"rule","stroke":"#9aa3ad","strokeWidth":1},
 "encoding":{"y":{"field":"p","type":"quantitative","scale":{"domain":[1.31708,1.34718],"nice":false,"zero":false},"axis":{"title":null,"tickCount":60}}}},
{"data":{"name":"ma"},"mark":{"type":"line","strokeWidth":1,"interpolate":"monotone"},
 "encoding":{"x":{"field":"i","type":"quantitative","scale":{"domain":[-1.21,400.4],"nice":false,"zero":false},"axis":null},
 "y":{"field":"v","type":"quantitative","scale":{"domain":[1.31708,1.34718],"nice":false,"zero":false},"axis":{"title":null,"tickCount":60}},
 "color":{"field":"s","type":"nominal","scale":{"domain":["f","s"],"range":["#9fd4f0","#f3d54e"]},"legend":null}}},
{"data":{"name":"bars"},"mark":{"type":"rule","strokeWidth":1},
 "encoding":{"x":{"field":"i","type":"quantitative","scale":{"domain":[-1.21,400.4],"nice":false,"zero":false},"axis":null},
 "y":{"field":"l","type":"quantitative","scale":{"domain":[1.31708,1.34718],"nice":false,"zero":false},"axis":{"title":null,"tickCount":60}},"y2":{"field":"h"},
 "color":{"condition":[{"test":"datum.c > datum.o","value":"#8db6dc"},{"test":"datum.c < datum.o","value":"#c2c2c2"}],"value":"#222222"}}},
{"data":{"name":"bars"},"mark":{"type":"bar","width":1.8},
 "encoding":{"x":{"field":"i","type":"quantitative","scale":{"domain":[-1.21,400.4],"nice":false,"zero":false},"axis":null},
 "y":{"field":"o","type":"quantitative","scale":{"domain":[1.31708,1.34718],"nice":false,"zero":false},"axis":{"title":null,"tickCount":60}},"y2":{"field":"c"},
 "color":{"condition":[{"test":"datum.c > datum.o","value":"#3d7dbd"},{"test":"datum.c < datum.o","value":"#a4a4a4"}],"value":"#222222"}}},
{"data":{"name":"box"},"mark":{"type":"rect","fill":null,"fillOpacity":0,"stroke":"#9ccc4c","strokeWidth":2,"cornerRadius":4},
 "encoding":{"x":{"field":"a","type":"quantitative","scale":{"domain":[-1.21,400.4],"nice":false,"zero":false},"axis":null},"x2":{"field":"b"},
 "y":{"field":"lo","type":"quantitative","scale":{"domain":[1.31708,1.34718],"nice":false,"zero":false},"axis":{"title":null,"tickCount":60}},"y2":{"field":"hi"}}},
{"data":{"name":"arr"},"mark":{"type":"line","strokeWidth":2.2,"strokeDash":[4,3]},
 "encoding":{"x":{"field":"i","type":"quantitative","scale":{"domain":[-1.21,400.4],"nice":false,"zero":false},"axis":null},
 "y":{"field":"p","type":"quantitative","scale":{"domain":[1.31708,1.34718],"nice":false,"zero":false},"axis":{"title":null,"tickCount":60}},
 "order":{"field":"k"},"detail":{"field":"g","type":"nominal"},
 "color":{"condition":{"test":"datum.g == 'up'","value":"#111111"},"value":"#b83232"}}},
{"data":{"name":"heads"},"mark":{"type":"point","filled":true,"size":90,"opacity":1},
 "encoding":{"x":{"field":"i","type":"quantitative","scale":{"domain":[-1.21,400.4],"nice":false,"zero":false},"axis":null},
 "y":{"field":"p","type":"quantitative","scale":{"domain":[1.31708,1.34718],"nice":false,"zero":false},"axis":{"title":null,"tickCount":60}},
 "shape":{"field":"g","type":"nominal","scale":{"domain":["up","dn"],"range":["triangle-up","triangle-down"]},"legend":null},
 "color":{"condition":{"test":"datum.g == 'up'","value":"#111111"},"value":"#b83232"}}},
{"data":{"name":"lv"},"mark":{"type":"point","filled":true,"opacity":1,"size":576,"shape":"M-1,-0.36L1,-0.36L1,0.36L-1,0.36Z","color":"#9acd32"},
 "encoding":{"x":{"datum":406.3,"type":"quantitative","scale":{"domain":[-1.21,400.4],"nice":false,"zero":false},"axis":null},
 "y":{"field":"p","type":"quantitative","scale":{"domain":[1.31708,1.34718],"nice":false,"zero":false},"axis":{"title":null,"tickCount":60}}}},
{"data":{"name":"lv"},"mark":{"type":"text","fontSize":6.3,"color":"white","align":"center","baseline":"middle"},
 "encoding":{"x":{"datum":406.3,"type":"quantitative","scale":{"domain":[-1.21,400.4],"nice":false,"zero":false},"axis":null},
 "y":{"field":"p","type":"quantitative","scale":{"domain":[1.31708,1.34718],"nice":false,"zero":false},"axis":{"title":null,"tickCount":60}},
 "text":{"field":"p","format":".4f"}}},
{"data":{"values":[{"t":"GBPUSD,H1  1.3379 1.3387 1.3377 1.3382"}]},"mark":{"type":"text","fontSize":6.3,"color":"#555d68","align":"left","baseline":"top","dx":3,"dy":3},
 "encoding":{"x":{"datum":-1.21,"type":"quantitative","scale":{"domain":[-1.21,400.4],"nice":false,"zero":false},"axis":null},
 "y":{"datum":1.34718,"type":"quantitative","scale":{"domain":[1.31708,1.34718],"nice":false,"zero":false},"axis":{"title":null,"tickCount":60}},
 "text":{"field":"t"}}}
]
},
{
"width":996,"height":52,
"layer":[
{"data":{"name":"days"},"mark":{"type":"rule","stroke":"#a3abb5","strokeDash":[2,2],"strokeWidth":1},
 "encoding":{"x":{"field":"d","type":"quantitative","scale":{"domain":[-1.21,400.4],"nice":false,"zero":false},"axis":null}}},
{"data":{"name":"bars"},"mark":{"type":"bar","width":1.5,"color":"#bdbdbd"},
 "encoding":{"x":{"field":"i","type":"quantitative","scale":{"domain":[-1.21,400.4],"nice":false,"zero":false},"axis":null},
 "y":{"field":"m","type":"quantitative","scale":{"domain":[-0.00287,0.00417],"nice":false,"zero":false},
  "axis":{"orient":"right","title":null,"values":[0.00363,0,-0.00219],"tickCount":10,"labelExpr":"datum.value == 0 ? '0.00' : format(datum.value, '.5f')","domain":false,"labelFontSize":5.8,"tickSize":2,"labelPadding":0,"labelOverlap":false}}}},
{"data":{"name":"sig"},"mark":{"type":"line","strokeWidth":1,"color":"#e8403a","interpolate":"monotone"},
 "encoding":{"x":{"field":"i","type":"quantitative","scale":{"domain":[-1.21,400.4],"nice":false,"zero":false},"axis":null},
 "y":{"field":"s","type":"quantitative","scale":{"domain":[-0.00287,0.00417],"nice":false,"zero":false},"axis":{"title":null,"tickCount":10}}}},
{"data":{"values":[{"t":"MACD(12,26,9) 0.00022 0.00038"}]},"mark":{"type":"text","fontSize":6.3,"color":"#555d68","align":"left","baseline":"top","dx":3,"dy":3},
 "encoding":{"x":{"datum":-1.21,"type":"quantitative","scale":{"domain":[-1.21,400.4],"nice":false,"zero":false},"axis":null},
 "y":{"datum":0.00417,"type":"quantitative","scale":{"domain":[-0.00287,0.00417],"nice":false,"zero":false},"axis":{"title":null,"tickCount":10}},
 "text":{"field":"t"}}}
]
},
{
"width":996,"height":45,
"layer":[
{"data":{"name":"days"},"mark":{"type":"rule","stroke":"#a3abb5","strokeDash":[2,2],"strokeWidth":1},
 "encoding":{"x":{"field":"d","type":"quantitative","scale":{"domain":[-1.21,400.4],"nice":false,"zero":false},"axis":{"title":null,"tickCount":60}}}},
{"data":{"name":"bars"},"mark":{"type":"bar","width":1.6,"color":"#4380bd"},
 "encoding":{"x":{"field":"i","type":"quantitative","scale":{"domain":[-1.21,400.4],"nice":false,"zero":false},
  "axis":{"orient":"bottom","title":null,"values":[0,16,32,48,64,80,96,112,128,144,160,176,192,208,224,240,256,272,288,304],"tickCount":60,"labelAlign":"left","labelOverlap":false,"labelFlush":false,"domain":false,"labelFontSize":5.5,
  "labelExpr":"['1 Dec 2025','2 Dec 11:00','3 Dec 03:00','3 Dec 19:00','4 Dec 11:00','5 Dec 03:00','5 Dec 19:00','8 Dec 11:00','9 Dec 03:00','9 Dec 19:00','10 Dec 11:00','11 Dec 03:00','11 Dec 19:00','12 Dec 11:00','15 Dec 03:00','15 Dec 19:00','16 Dec 11:00','17 Dec 03:00','17 Dec 19:00','18 Dec 11:00'][round(datum.value/16)]"}},
 "y":{"field":"v","type":"quantitative","scale":{"domain":[0,4363],"nice":false,"zero":true},
  "axis":{"orient":"right","title":null,"values":[0,4363],"tickCount":10,"format":"d","labelBaseline":"bottom","domain":false,"labelFontSize":5.8,"labelOverlap":false}}}},
{"data":{"values":[{"t":"Volumes 436"}]},"mark":{"type":"text","fontSize":6.3,"color":"#555d68","align":"left","baseline":"top","dx":3,"dy":2},
 "encoding":{"x":{"datum":-1.21,"type":"quantitative","scale":{"domain":[-1.21,400.4],"nice":false,"zero":false},"axis":{"title":null,"tickCount":60}},
 "y":{"datum":4363,"type":"quantitative","scale":{"domain":[0,4363],"nice":false,"zero":true},"axis":{"title":null,"tickCount":10}},
 "text":{"field":"t"}}}
]
}
]
}
